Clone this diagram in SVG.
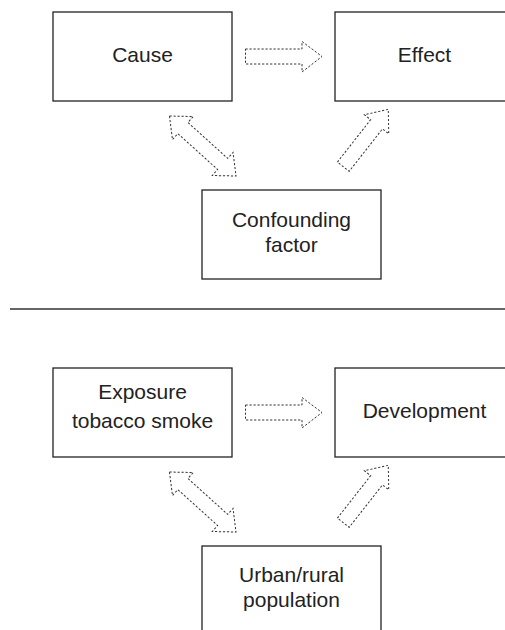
<svg xmlns="http://www.w3.org/2000/svg" width="505" height="630" viewBox="0 0 505 630">
<style>
.box{fill:#fff;stroke:#222;stroke-width:1.3}
.lbl{font-family:"Liberation Sans",Arial,sans-serif;font-size:21px;fill:#222;text-anchor:middle}
.arr{fill:none;stroke:#333;stroke-width:1;stroke-dasharray:2.2 1.8}
.sep{stroke:#333;stroke-width:1.4}
</style>
<rect width="505" height="630" fill="#fff"/>
<g id="cause"><rect class="box" x="53" y="12" width="179" height="89"/><text class="lbl" x="142.5" y="61.7">Cause</text></g>
<g id="effect"><rect class="box" x="335" y="12" width="179" height="89"/><text class="lbl" x="424.5" y="61.7">Effect</text></g>
<g id="confounding"><rect class="box" x="202" y="190" width="179" height="89"/><text class="lbl" x="291.5" y="226.7">Confounding</text><text class="lbl" x="291.5" y="251.7">factor</text></g>
<line id="separator" class="sep" x1="10" y1="309" x2="505" y2="309"/>
<g id="exposure"><rect class="box" x="53" y="368" width="179" height="89"/><text class="lbl" x="142.5" y="398.5">Exposure</text><text class="lbl" x="142.5" y="428">tobacco smoke</text></g>
<g id="development"><rect class="box" x="335" y="368" width="179" height="89"/><text class="lbl" x="424.5" y="418.3">Development</text></g>
<g id="urban"><rect class="box" x="202" y="546" width="179" height="89"/><text class="lbl" x="291.5" y="581.7">Urban/rural</text><text class="lbl" x="291.5" y="606.7">population</text></g>
<g id="connectors">
<path class="arr" d="M245.5,49 H302 V41.5 L322,56.5 L302,72 V64 H245.5 Z"/>
<path class="arr" transform="translate(169.5,116) rotate(42.06)" d="M0,0 L18,-15.5 V-7.5 H71.6 V-15.5 L89.6,0 L71.6,15.5 V7.5 H18 V15.5 Z"/>
<path class="arr" transform="translate(343.3,166.7) rotate(-51.9)" d="M0,-7.5 H53.9 V-15.5 L72.9,0 L53.9,15.5 V7.5 H0 Z"/>
<path class="arr" d="M245.5,405 H302 V397.5 L322,412.5 L302,428 V420 H245.5 Z"/>
<path class="arr" transform="translate(169.5,472) rotate(42.06)" d="M0,0 L18,-15.5 V-7.5 H71.6 V-15.5 L89.6,0 L71.6,15.5 V7.5 H18 V15.5 Z"/>
<path class="arr" transform="translate(343.3,522.7) rotate(-51.9)" d="M0,-7.5 H53.9 V-15.5 L72.9,0 L53.9,15.5 V7.5 H0 Z"/>
</g>
</svg>
